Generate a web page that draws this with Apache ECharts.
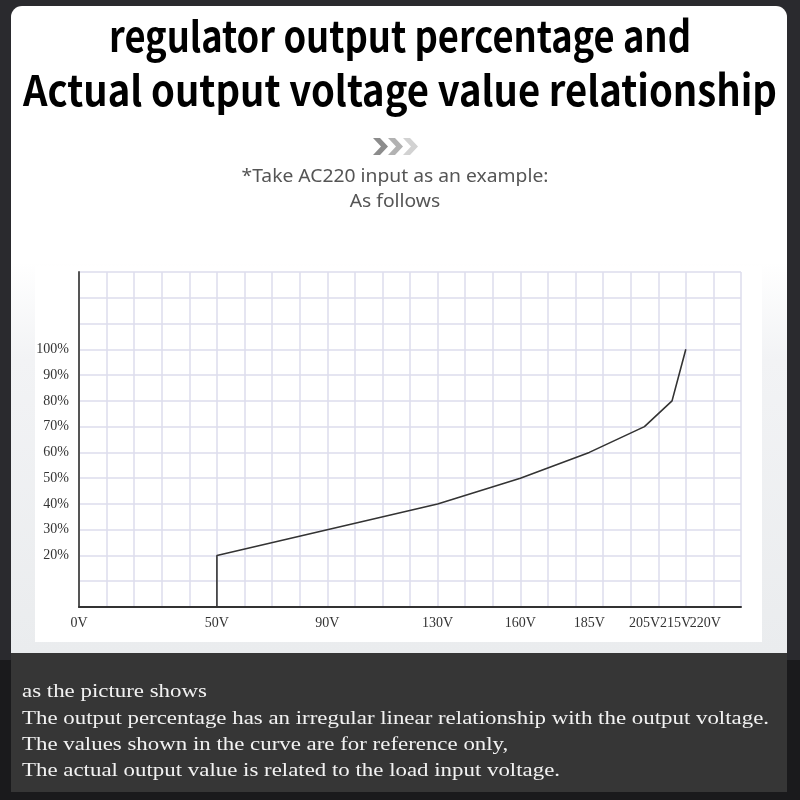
<!DOCTYPE html>
<html><head><meta charset="utf-8">
<script src="https://cdn.jsdelivr.net/npm/echarts@6/dist/echarts.min.js"></script>
<style>html,body{margin:0;padding:0;background:#000}#c{width:800px;height:800px}</style>
</head><body><div id="c"></div>
<script>
const titleLines = ['regulator output percentage and', 'Actual output voltage value relationship'];
const subtitleLines = ['*Take AC220 input as an example:', 'As follows'];
const noteLines = [
  'as the picture shows',
  'The output percentage has an irregular linear relationship with the output voltage.',
  'The values shown in the curve are for reference only,',
  'The actual output value is related to the load input voltage.'
];
const voltages = [50, 50, 90, 130, 160, 185, 205, 215, 220];
const percents = [0, 20, 30, 40, 50, 60, 70, 80, 100];
const xTickValues = [0, 50, 90, 130, 160, 185, 205, 215, 220];
const yTickValues = [20, 30, 40, 50, 60, 70, 80, 90, 100];

const mctx = document.createElement('canvas').getContext('2d');
function fit(text, font, target) { mctx.font = font; return target / mctx.measureText(text).width; }

const titleFont = 'bold 42px "Noto Sans CJK SC", "Noto Sans", sans-serif';
const titleScales = [fit(titleLines[0], titleFont, 582), fit(titleLines[1], titleFont, 754)];
const subFont = '18px "Noto Sans", "Open Sans", sans-serif';
const subScale = fit(subtitleLines[0], subFont, 307);
const noteFont = '18px "Liberation Serif", "DejaVu Serif", serif';
const noteScale = fit(noteLines[1], noteFont, 747);

const graphics = [
  { type: 'rect', z: -100, shape: { x: 0, y: 0, width: 800, height: 800 }, style: { fill: '#1a1a1c' } },
  { type: 'rect', z: -99, shape: { x: 0, y: 0, width: 800, height: 660 }, style: { fill: '#2a2a2e' } },
  { type: 'rect', z: -98, shape: { x: 11, y: 6, width: 776, height: 660, r: [11, 11, 0, 0] }, style: { fill: '#ffffff' } },
  { type: 'rect', z: -97, shape: { x: 11, y: 262, width: 776, height: 391 }, style: {
      fill: { type: 'linear', x: 0, y: 0, x2: 0, y2: 1, colorStops: [
        { offset: 0, color: '#ffffff' }, { offset: 0.25, color: '#f2f3f5' }, { offset: 1, color: '#eaecee' }] } } },
  { type: 'rect', z: -96, shape: { x: 35, y: 266, width: 727, height: 376 }, style: { fill: '#ffffff' } },
  { type: 'rect', z: -95, shape: { x: 11, y: 653, width: 776, height: 139 }, style: { fill: '#363636' } }
];
titleLines.forEach((t, i) => graphics.push({
  type: 'text', x: 400, y: [36, 90][i], scaleX: titleScales[i],
  style: { text: t, font: titleFont, fill: '#000', textAlign: 'center', textVerticalAlign: 'middle' }
}));
subtitleLines.forEach((t, i) => graphics.push({
  type: 'text', x: 395, y: [177, 202][i], scaleX: subScale,
  style: { text: t, font: subFont, fill: '#555', textAlign: 'center', textVerticalAlign: 'middle' }
}));
noteLines.forEach((t, i) => graphics.push({
  type: 'text', x: 22, y: [692, 719, 745, 771][i], scaleX: noteScale,
  style: { text: t, font: noteFont, fill: '#f2f2f2', textAlign: 'left', textVerticalAlign: 'middle' }
}));
['#8c8c8c', '#b2b2b2', '#d2d2d2'].forEach((c, i) => {
  const x0 = 373 + i * 15, y0 = 138, y1 = 155, ym = 146.5;
  graphics.push({ type: 'polygon', shape: { points: [[x0, y0], [x0 + 7, y0], [x0 + 15, ym], [x0 + 7, y1], [x0, y1], [x0 + 8, ym]] }, style: { fill: c } });
});

const labelStyle = { formatter: '{value}V', margin: 9, hideOverlap: false,
  fontFamily: '"Liberation Serif", serif', fontSize: 14, color: '#333' };
function labelAxis(values, extra) {
  return {
    type: 'value', min: 0, max: 240, interval: 10, position: 'bottom', offset: 0,
    axisLine: { show: false }, axisTick: { show: false }, splitLine: { show: false },
    axisLabel: Object.assign({ customValues: values }, labelStyle, extra)
  };
}
const chart = echarts.init(document.getElementById('c'));
chart.setOption({
  animation: false,
  graphic: { elements: graphics },
  grid: { left: 79, right: 59, top: 272, bottom: 193 },
  xAxis: [{
    type: 'value', min: 0, max: 240, interval: 10,
    axisLine: { lineStyle: { color: '#333', width: 2 } },
    axisTick: { show: false },
    splitLine: { show: true, lineStyle: { color: '#dcdcec', width: 1.5 } },
    axisLabel: Object.assign({ customValues: xTickValues.slice(0, -2) }, labelStyle)
  },
    labelAxis(xTickValues.slice(-2, -1), { padding: [0, 0, 0, 7] }),
    labelAxis(xTickValues.slice(-1), { align: 'left', padding: [0, 0, 0, 4] })
  ],
  yAxis: {
    type: 'value', min: 0, max: 130, interval: 10,
    axisLine: { show: true, lineStyle: { color: '#555', width: 2 } },
    axisTick: { show: false },
    splitLine: { show: true, lineStyle: { color: '#dcdcec', width: 1.5 } },
    axisLabel: {
      customValues: yTickValues, formatter: '{value}%', margin: 10, hideOverlap: false,
      fontFamily: '"Liberation Serif", serif', fontSize: 14, color: '#333'
    }
  },
  series: [{
    type: 'line', symbol: 'none',
    data: voltages.map((v, i) => [v, percents[i]]),
    lineStyle: { color: '#333', width: 1.6 }
  }]
});
</script></body></html>
